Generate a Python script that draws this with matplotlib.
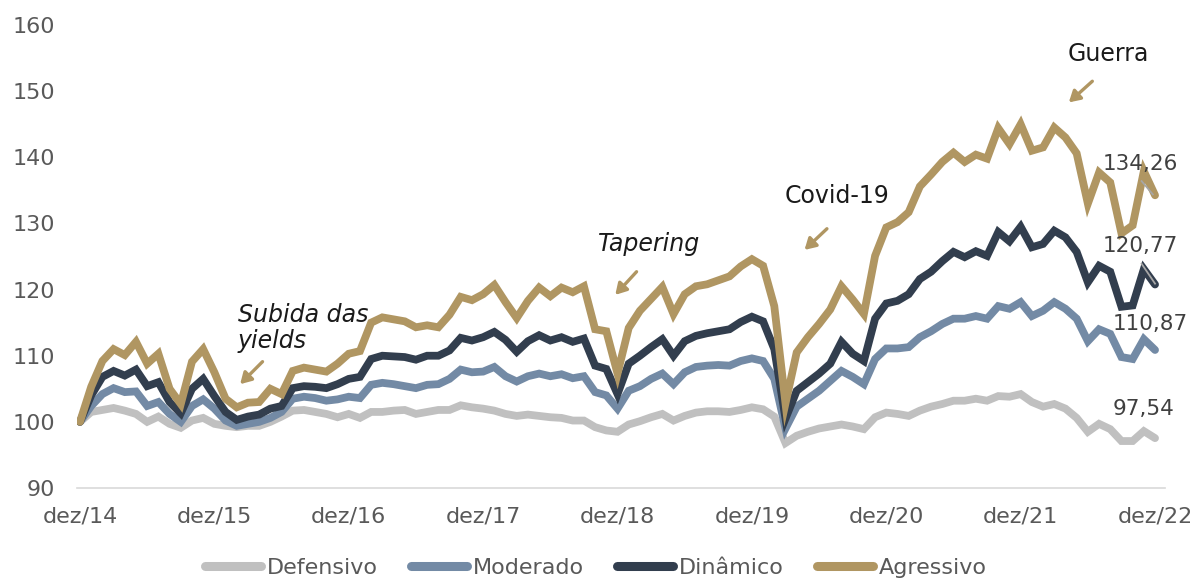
import numpy as np
import matplotlib
matplotlib.use("Agg")
import matplotlib.pyplot as plt

# monthly index values, dez/14 = 100
defensivo = [100, 101.5, 101.8, 102.1, 101.7, 101.2, 100, 100.8, 99.7, 99.1, 100.2, 100.6,
             99.7, 99.4, 99.2, 99.4, 99.4, 100, 100.8, 101.7, 101.8, 101.5, 101.2, 100.7,
             101.2, 100.6, 101.5, 101.5, 101.7, 101.8, 101.2, 101.5, 101.8, 101.8, 102.5, 102.2,
             102, 101.7, 101.2, 100.9, 101.1, 100.9, 100.7, 100.6, 100.2, 100.2, 99.2, 98.7,
             98.5, 99.6, 100.1, 100.7, 101.2, 100.2, 100.9, 101.4, 101.6, 101.6, 101.5, 101.8,
             102.2, 101.9, 100.8, 96.8, 97.9, 98.5, 99, 99.3, 99.6, 99.3, 98.9, 100.7,
             101.4, 101.2, 100.9, 101.7, 102.3, 102.7, 103.2, 103.2, 103.5, 103.2, 103.9, 103.8,
             104.2, 103, 102.3, 102.7, 102, 100.6, 98.5, 99.7, 98.9, 97.1, 97.1, 98.6, 97.54]
moderado = [100, 102.4, 104.2, 105.1, 104.5, 104.6, 102.4, 103, 101.2, 100, 102.4, 103.4,
            102, 100.2, 99.4, 99.7, 100, 100.6, 101.5, 103.5, 103.8, 103.6, 103.2, 103.4,
            103.8, 103.6, 105.6, 105.9, 105.7, 105.4, 105.1, 105.6, 105.7, 106.5, 107.9, 107.5,
            107.6, 108.3, 106.9, 106.1, 106.9, 107.3, 106.9, 107.2, 106.6, 106.9, 104.5, 104,
            102, 104.7, 105.4, 106.5, 107.3, 105.7, 107.5, 108.3, 108.5, 108.6, 108.5, 109.2,
            109.6, 109.2, 106.5, 99, 102.3, 103.5, 104.7, 106.2, 107.7, 106.8, 105.7, 109.5,
            111.1, 111.1, 111.3, 112.8, 113.7, 114.8, 115.6, 115.6, 116, 115.6, 117.5, 117.1,
            118.1, 116, 116.8, 118.1, 117.1, 115.6, 112.2, 114, 113.3, 109.8, 109.5, 112.5, 110.87]
dinamico = [100, 104, 106.8, 107.7, 107, 107.9, 105.4, 106, 103, 101.3, 105, 106.5,
            103.9, 101.5, 100.3, 100.8, 101.1, 102, 102.4, 105.1, 105.4, 105.3, 105.1, 105.7,
            106.5, 106.8, 109.5, 110, 109.9, 109.8, 109.4, 110, 110, 110.8, 112.7, 112.3,
            112.8, 113.6, 112.4, 110.6, 112.2, 113.1, 112.3, 112.8, 112.1, 112.6, 108.5, 108,
            104.2, 108.8, 110, 111.3, 112.5, 110, 112.2, 113, 113.4, 113.7, 114, 115.1,
            115.9, 115.2, 111, 100.5, 104.7, 106, 107.3, 108.8, 112.1, 110.3, 109.2, 115.6,
            117.9, 118.3, 119.3, 121.6, 122.7, 124.3, 125.7, 124.9, 125.8, 125.1, 128.7, 127.3,
            129.5, 126.4, 126.9, 128.9, 127.9, 125.7, 121.1, 123.6, 122.7, 117.4, 117.6, 123.1, 120.77]
agressivo = [100, 105.3, 109.2, 111, 110.1, 112.1, 108.8, 110.3, 105, 102.7, 109.1, 111,
             107.5, 103.5, 102.2, 102.9, 103, 105, 104.2, 107.7, 108.2, 107.9, 107.6, 108.8,
             110.3, 110.7, 115, 115.8, 115.5, 115.2, 114.3, 114.6, 114.3, 116.2, 118.9, 118.4,
             119.3, 120.7, 118.1, 115.7, 118.3, 120.3, 119, 120.3, 119.6, 120.5, 114, 113.7,
             107.3, 114.2, 116.8, 118.6, 120.4, 116.3, 119.3, 120.5, 120.8, 121.4, 122, 123.5,
             124.6, 123.6, 117.5, 102.8, 110.5, 112.8, 114.8, 117, 120.5, 118.5, 116.3, 125.1,
             129.4, 130.2, 131.7, 135.6, 137.4, 139.3, 140.7, 139.3, 140.4, 139.8, 144.4, 142,
             145, 141, 141.5, 144.5, 143, 140.6, 133, 137.7, 136.2, 128.5, 129.7, 137.9, 134.26]

series_names = ["Defensivo", "Moderado", "Dinâmico", "Agressivo"]
colors = ["#C0C0C0", "#738AA5", "#323E4E", "#B09662"]
tick_labels = ["dez/14", "dez/15", "dez/16", "dez/17", "dez/18",
               "dez/19", "dez/20", "dez/21", "dez/22"]
end_labels = ["97,54", "110,87", "120,77", "134,26"]
event_labels = ["Subida das\nyields", "Tapering", "Covid-19", "Guerra"]

plt.rcParams["font.family"] = ["DejaVu Sans"]

fig = plt.figure(figsize=(11.95, 5.78), dpi=100)
ax = fig.add_axes([0.0644, 0.1557, 0.9106, 0.801])

x = np.arange(len(agressivo))
all_series = [defensivo, moderado, dinamico, agressivo]
for vals, name, c in zip(all_series, series_names, colors):
    ax.plot(x, vals, color=c, lw=5.6, label=name,
            solid_joinstyle="miter", solid_capstyle="round")

ax.set_xlim(-0.27, 96.9)
ax.set_ylim(90, 160)
ax.set_yticks(range(90, 161, 10))
ax.set_xticks(x[::12])
ax.set_xticklabels(tick_labels)
for lab in ax.get_xticklabels() + ax.get_yticklabels():
    lab.set_fontsize(16)
    lab.set_color("#595959")
ax.tick_params(length=0)
ax.tick_params(axis="x", pad=13)
ax.tick_params(axis="y", pad=16)
for s in ["top", "right", "left"]:
    ax.spines[s].set_visible(False)
ax.spines["bottom"].set_color("#D9D9D9")
ax.spines["bottom"].set_linewidth(1.2)

# end-of-series values + small leader lines
end_pos = [(92.2, 102.0), (92.2, 114.8), (91.3, 126.6), (91.3, 139.0)]
for (px, py), txt in zip(end_pos, end_labels):
    ax.text(px, py, txt, fontsize=15.5, color="#404040", va="center")
ax.plot([94.8, 95.8], [136.4, 134.4], color="#A6A6A6", lw=1.3)
ax.plot([94.8, 96.0], [123.9, 120.9], color="#A6A6A6", lw=1.3)

# event annotations with small arrows
gold = "#B09662"
text_pos = [(14.1, 114.2), (46.25, 126.9), (62.9, 134.1), (88.2, 155.6)]
styles = ["italic", "italic", "normal", "normal"]
arrows = [((16.3, 109.1), (14.3, 105.7)),
          ((49.7, 122.7), (47.8, 119.2)),
          ((66.7, 129.2), (64.7, 126.0)),
          ((90.4, 151.5), (88.3, 148.3))]
for txt, (tx, ty), st, (p0, p1) in zip(event_labels, text_pos, styles, arrows):
    ax.text(tx, ty, txt, fontsize=17, style=st, color="#1a1a1a",
            va="center", linespacing=1.1)
    ax.annotate("", xy=p1, xytext=p0,
                arrowprops=dict(arrowstyle="-|>,head_length=0.65,head_width=0.38",
                                color=gold, lw=2.4, shrinkA=0, shrinkB=0))

leg = fig.legend(loc="center", bbox_to_anchor=(0.4987, 0.018), ncol=4,
                 frameon=False, handlelength=2.5, handletextpad=0.27,
                 columnspacing=1.5, prop={"size": 16})
for t in leg.get_texts():
    t.set_color("#595959")
for h in leg.get_lines():
    h.set_linewidth(6.5)

fig.savefig("out.png", dpi=100)
